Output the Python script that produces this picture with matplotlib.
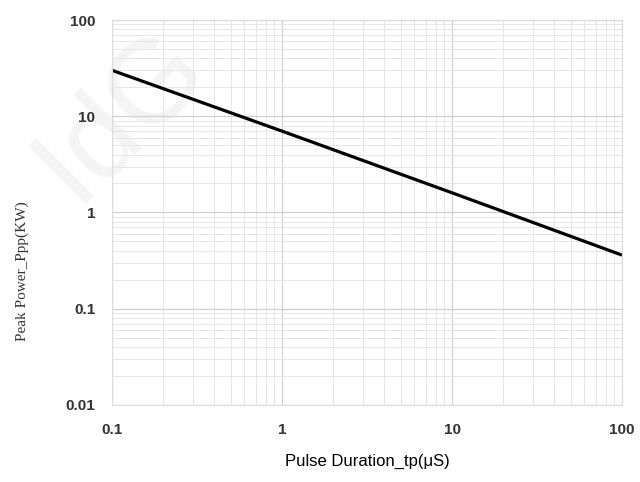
import matplotlib.pyplot as plt

# pulse duration (uS) vs peak power (kW)
tp = [0.1, 1, 10, 100]
ppp = [30, 7.0, 1.6, 0.36]

xticks = [0.1, 1, 10, 100]
xlabels = ["0.1", "1", "10", "100"]
yticks = [0.01, 0.1, 1, 10, 100]
ylabels = ["0.01", "0.1", "1", "10", "100"]

fig = plt.figure(figsize=(6.4, 4.82), dpi=100)
ax = fig.add_axes([0.175, 0.16, 0.797, 0.7985])

# faint watermark, behind everything
fig.text(0.19, 0.76, "IdG", fontsize=85, color="#f4f4f4", rotation=45,
         ha="center", va="center", family="Liberation Sans", zorder=-5)

ax.set_xscale("log")
ax.set_yscale("log")
ax.set_xlim(0.1, 100)
ax.set_ylim(0.01, 100)
ax.patch.set_alpha(0)

ax.plot(tp, ppp, color="black", lw=2.3, solid_capstyle="butt")

ax.grid(which="major", color="#d0d0d0", lw=0.9)
ax.grid(which="minor", color="#e6e6e6", lw=0.7)
for s in ax.spines.values():
    s.set_color("#dcdcdc")
ax.tick_params(which="both", length=0)

ax.set_xticks(xticks)
ax.set_xticklabels(xlabels, fontsize=11, fontweight="bold", color="#333333",
                   family="Liberation Sans")
ax.set_yticks(yticks)
ax.set_yticklabels(ylabels, fontsize=11, fontweight="bold", color="#333333",
                   family="Liberation Sans")
ax.tick_params(axis="x", pad=13)
ax.tick_params(axis="y", pad=12)

ax.set_xlabel("Pulse Duration_tp(μS)", fontsize=12, family="Liberation Sans",
              labelpad=12)
fig.text(0.034, 0.438, "Peak Power_Ppp(KW)", rotation=90, fontsize=11,
         family="Liberation Serif", color="#333333",
         ha="center", va="center")

fig.savefig("out.png", dpi=100)
